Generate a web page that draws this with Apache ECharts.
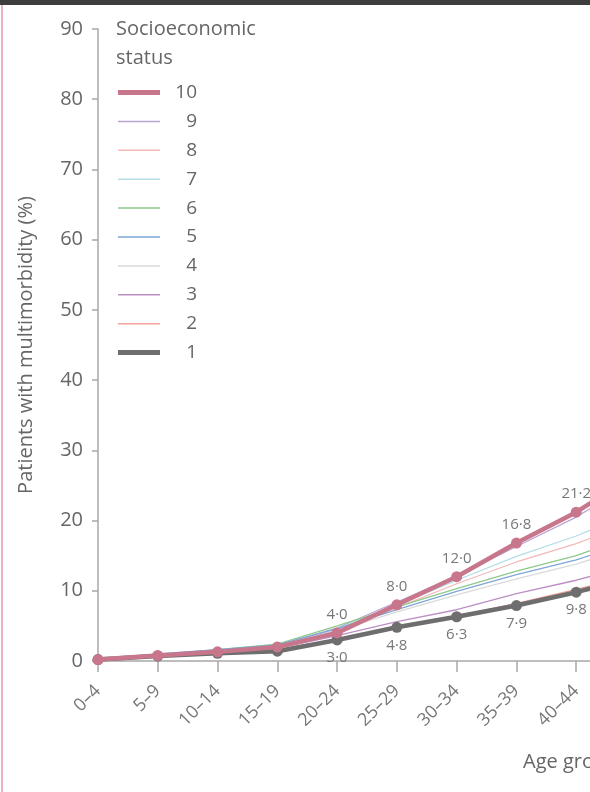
<!DOCTYPE html>
<html>
<head>
<meta charset="utf-8">
<script src="https://cdn.jsdelivr.net/npm/echarts@6/dist/echarts.min.js"></script>
<style>
html,body{margin:0;padding:0;background:#fff;}
#chart{width:590px;height:792px;}
</style>
</head>
<body>
<div id="chart"></div>
<script>
// Age groups (the last one lies just past the right edge of the cropped view)
const ageGroups = ['0–4','5–9','10–14','15–19','20–24','25–29','30–34','35–39','40–44','45–49'];
const yTicks = [0, 10, 20, 30, 40, 50, 60, 70, 80, 90];
const sesNames = ['10','9','8','7','6','5','4','3','2','1'];

const ses10 = [0.2, 0.8, 1.3, 2.0, 4.0, 8.0, 12.0, 16.8, 21.2, 26.6];
const ses9  = [0.2, 0.9, 1.5, 2.2, 4.7, 8.4, 12.1, 16.3, 20.5, 25.6];
const ses8  = [0.2, 0.8, 1.4, 2.1, 4.4, 7.6, 11.0, 14.1, 16.7, 20.0];
const ses7  = [0.2, 0.9, 1.5, 2.2, 4.6, 7.9, 11.5, 14.9, 17.8, 21.4];
const ses6  = [0.2, 0.9, 1.6, 2.4, 5.0, 7.7, 10.3, 12.8, 15.0, 18.0];
const ses5  = [0.2, 1.0, 1.6, 2.3, 4.6, 7.3, 9.9, 12.3, 14.4, 17.2];
const ses4  = [0.2, 0.8, 1.4, 2.1, 4.3, 7.0, 9.4, 11.7, 13.8, 16.5];
const ses3  = [0.2, 0.8, 1.3, 1.8, 3.6, 5.6, 7.3, 9.6, 11.5, 13.8];
const ses2  = [0.2, 0.7, 1.2, 1.6, 3.1, 4.9, 6.4, 8.2, 10.2, 12.4];
const ses1  = [0.2, 0.7, 1.1, 1.4, 3.0, 4.8, 6.3, 7.9, 9.8, 12.0];

const sesData = {'10':ses10,'9':ses9,'8':ses8,'7':ses7,'6':ses6,'5':ses5,'4':ses4,'3':ses3,'2':ses2,'1':ses1};
const sesColors = {'10':'#c8768c','9':'#b9a3d3','8':'#f2b9b9','7':'#b5dde6','6':'#8ec98c',
                   '5':'#7ea6d6','4':'#dadada','3':'#bb8fc4','2':'#f2a39d','1':'#6e6e6e'};

const TXT = '#666666';
const FONT = 'Open Sans';

const fmt = p => (p.dataIndex >= 4 && p.dataIndex <= 8 ? p.value.toFixed(1).replace('.', '·') : '');

// draw order: thin lines first, then 1 and 10
const drawOrder = ['9','8','7','6','5','4','3','2','1','10'];
const series = drawOrder.map(n => {
  const thick = (n === '10' || n === '1');
  const s = {
    name: n,
    type: 'line',
    data: sesData[n],
    color: sesColors[n],
    lineStyle: { width: thick ? 4.5 : 1.3, color: sesColors[n] },
    symbol: thick ? 'circle' : 'none',
    symbolSize: thick ? 11 : 0,
    showSymbol: thick,
    z: thick ? (n === '10' ? 5 : 4) : 2,
    animation: false,
    emphasis: { disabled: true }
  };
  if (thick) {
    s.label = {
      show: true,
      position: n === '10' ? 'top' : 'bottom',
      distance: 5,
      formatter: fmt,
      color: '#777',
      fontFamily: FONT,
      fontSize: 15
    };
  }
  return s;
});

// one legend block per entry so thick/thin swatches keep a common row spacing
const legends = sesNames.map((n, i) => {
  const thick = (n === '10' || n === '1');
  return {
    data: [{ name: n, icon: 'rect' }],
    left: 118,
    top: 83 + i * 28.9,
    padding: 0,
    itemWidth: 42,
    itemHeight: thick ? 5 : 1.5,
    itemGap: 0,
    selectedMode: false,
    formatter: '{n|{name}}',
    textStyle: {
      color: TXT, fontFamily: FONT, fontSize: 19,
      rich: { n: { width: 32, align: 'right', color: TXT, fontFamily: FONT, fontSize: 19, lineHeight: 22 } }
    }
  };
});

const chart = echarts.init(document.getElementById('chart'), null, { renderer: 'canvas' });
chart.setOption({
  backgroundColor: '#ffffff',
  animation: false,
  grid: { left: 98, top: 29, width: 538, height: 632, containLabel: false, outerBoundsMode: 'none' },
  legend: legends,
  xAxis: {
    type: 'category',
    data: ageGroups,
    boundaryGap: false,
    axisLine: { lineStyle: { color: '#a8a8a8', width: 1.5 } },
    axisTick: { show: true, length: 11, alignWithLabel: true, lineStyle: { color: '#a8a8a8', width: 1.5 } },
    axisLabel: { rotate: 45, margin: 27, color: '#777', fontFamily: FONT, fontSize: 18, interval: 0 },
    splitLine: { show: false }
  },
  yAxis: {
    type: 'value',
    min: yTicks[0],
    max: yTicks[yTicks.length - 1],
    interval: 10,
    name: 'Patients with multimorbidity (%)',
    nameLocation: 'middle',
    nameGap: 62,
    nameTextStyle: { color: TXT, fontFamily: FONT, fontSize: 20 },
    axisLine: { show: true, lineStyle: { color: '#a8a8a8', width: 1.5 } },
    axisTick: { show: true, length: 6, lineStyle: { color: '#a8a8a8', width: 1.5 } },
    axisLabel: { margin: 15, color: TXT, fontFamily: FONT, fontSize: 20 },
    splitLine: { show: false }
  },
  graphic: [
    { type: 'rect', left: 0, top: 0, shape: { width: 590, height: 5 }, style: { fill: '#3d3d3d' }, silent: true },
    { type: 'rect', left: 1, top: 5, shape: { width: 2, height: 787 }, style: { fill: '#eab0c4' }, silent: true },
    { type: 'text', left: 116, top: 15, style: { text: 'Socioeconomic\nstatus', fill: TXT, fontFamily: FONT, fontSize: 20, lineHeight: 29 } },
    { type: 'text', left: 523, top: 752, style: { text: 'Age group (years)', fill: TXT, fontFamily: FONT, fontSize: 20 } }
  ],
  series: series
});
</script>
</body>
</html>
